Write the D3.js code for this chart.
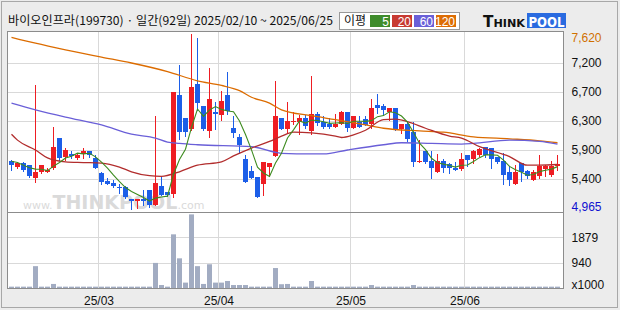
<!DOCTYPE html>
<html>
<head>
<meta charset="utf-8">
<script src="https://cdn.jsdelivr.net/npm/d3@7"></script>
<style>
  body { margin: 0; background: #ececec; }
  svg { display: block; font-family: "Liberation Sans", Arial, sans-serif; }
</style>
</head>
<body>
<svg id="chart" width="620" height="310"></svg>
<script>
// chart data (92 trading days, 2025/02/10 ~ 2025/06/25)
var title = "바이오인프라(199730) · 일간(92일) 2025/02/10 ~ 2025/06/25";

var opens  = [5690,5600,5670,5630,5430,5530,5530,5580,6040,5760, 5800,5740,5800,5850,5740,5510,5390,5360,5300,5300,
              5120,5080,5120,5250,5020,5310,5230,5200,6700,6350, 6180,6860,6530,6150,6440,6390,6700,6200,6050,5720,
              5540,5450,5350,5600,5770,6350,6180,6280,6280,6340, 6150,6410,6290,6250,6210,6250,6440,6200,6290,6330,
              6260,6540,6530,6430,6500,6180,6250,6130,5680,5850, 5690,5530,5690,5650,5590,5570,5780,5730,5780,5900,
              5890,5760,5690,5520,5350,5660,5540,5400,5460,5570, 5480,5620];
var highs  = [5710,5680,5680,5640,6850,5640,5580,6210,6040,5890, 5850,5820,5890,5850,5780,5520,5430,5400,5340,5320,
              5120,5120,5250,5250,6380,5450,5230,6740,7150,6350, 7620,7560,6530,7100,6590,6760,7040,6370,6110,5780,
              5610,5450,5680,5670,6900,6350,6590,6440,6390,6390, 6980,6430,6370,6340,6410,6450,6440,6380,6380,6370,
              6630,6710,6560,6500,6500,6250,6290,6290,6010,5850, 5850,5800,5720,5660,5680,5810,5780,5860,5890,5900,
              5890,5760,5810,5620,5630,5660,5560,5560,5780,5630, 5690,5780];
var lows   = [5560,5580,5540,5450,5380,5510,5520,5570,5710,5710, 5740,5720,5740,5760,5590,5350,5340,5300,5210,5130,
              4965,4980,5030,5000,5020,5170,5160,5150,6020,6070, 6170,6470,6170,6060,6180,6310,6400,6050,5810,5370,
              5430,5140,5170,5460,5770,6180,6140,6250,6100,6190, 6100,6240,6190,6190,6210,6250,6150,6200,6210,6240,
              6190,6420,6390,6320,6170,6120,5990,5610,5680,5660, 5430,5530,5530,5510,5550,5560,5610,5660,5770,5760,
              5590,5670,5350,5330,5350,5390,5440,5400,5440,5460, 5470,5560];
var closes = [5640,5660,5560,5470,5520,5630,5560,5900,5740,5860, 5770,5790,5850,5780,5590,5370,5340,5310,5290,5140,
              5080,5110,5080,5020,5360,5170,5170,6740,6140,6140, 6820,6570,6180,6630,6400,6600,6450,6120,5930,5370,
              5440,5140,5680,5670,6380,6180,6300,6300,6340,6220, 6410,6270,6210,6210,6250,6440,6200,6380,6210,6240,
              6500,6500,6460,6500,6170,6250,6030,5680,5690,5680, 5590,5690,5580,5580,5560,5730,5710,5850,5870,5780,
              5720,5680,5480,5400,5520,5530,5460,5530,5620,5620, 5620,5650];
// volume, x1000 shares
var volumes = [50,50,50,50,810,50,50,150,50,50, 50,50,50,50,50,50,50,50,50,50,
               50,50,50,50,930,110,50,1990,1100,200, 2730,810,150,880,200,200,260,110,110,110,
               50,50,50,50,740,140,150,50,50,50, 260,50,50,50,50,50,50,50,50,50,
               110,50,50,50,50,50,50,110,50,50, 50,50,50,50,50,50,50,50,50,50,
               50,50,50,50,50,50,50,50,50,50, 50,50];

// moving averages (index, value)
var ma5Lead  = [5690,5670,5630,5590];
var ma20Idx  = [0,1,4,6,9,12,15,18,20,23,25,28,31,35,37,40,43,45,47,50,54,55,57,59,62,64,66,69,73,75,78,83,86,88,91];
var ma20Val  = [6100,6010,5860,5740,5680,5670,5660,5600,5530,5470,5460,5530,5630,5680,5770,5890,5990,6070,6130,6120,
                6070,6050,6090,6160,6320,6330,6290,6190,6070,6040,5910,5760,5630,5630,5640];
var ma60Idx  = [0,4,9,15,20,24,26,28,31,40,45,50,52,56,62,65,70,75,77,83,88,91];
var ma60Val  = [6570,6470,6360,6240,6100,6040,5980,5960,5940,5910,5810,5800,5800,5860,5940,5970,5960,5950,5960,6010,5990,5950];
var ma120Idx = [0,4,9,15,20,26,31,35,38,40,43,45,50,54,59,62,68,72,77,83,88,91];
var ma120Val = [7570,7480,7380,7270,7180,7050,6910,6840,6760,6660,6570,6470,6380,6320,6240,6190,6150,6130,6060,6030,6000,5970];

var priceMin = 4965, priceMax = 7620;
var priceGrid = [7180, 6740, 6300, 5860, 5420];
var priceGridLabels = ["7,200", "6,700", "6,300", "5,900", "5,400"];
var volMax = 2818;
var volGrid = [1879, 940];
var monthStart = [15, 35, 57, 76];
var monthLabels = ["25/03", "25/04", "25/05", "25/06"];
var legendLabels = ["5", "20", "60", "120"];

// colours
var upColor = "#ee1d23", downColor = "#1c5ee8";
var maColors = ["#3d8b1f", "#b22d2d", "#6a5fd8", "#dc6c00"];
var legendColors = ["#3f8c2c", "#c83a32", "#6a60d8", "#dd6d05"];
var gridColor = "#d9d9d9", frameColor = "#8c8c8c";

// setup
var svg = d3.select("#chart");
var plot = {left: 7.5, right: 563.5, top: 31.5, sep: 212.5, bottom: 288.5};

var n = closes.length;
var x = d3.scaleBand().domain(d3.range(n)).range([8, 8 + n * 6]);
var y = d3.scaleLinear().domain([priceMin, priceMax]).range([209, 34]);
var yv = d3.scaleLinear().domain([0, volMax]).range([288, 212]);
var cx = function(i) { return x(i) + 3.5; };
var snap = function(v) { return Math.round(v) + 0.5; };

// outer frame and plot area
svg.append("rect").attr("x", 1.5).attr("y", 1.5).attr("width", 616).attr("height", 306)
    .attr("fill", "#ececec").attr("stroke", "#a8a8a8");
svg.append("rect").attr("x", plot.left).attr("y", plot.top)
    .attr("width", plot.right - plot.left).attr("height", plot.bottom - plot.top)
    .attr("fill", "#fff");

// grid lines
svg.selectAll(".pgrid").data(priceGrid).enter().append("line")
    .attr("x1", plot.left).attr("x2", plot.right)
    .attr("y1", function(d) { return snap(y(d)); })
    .attr("y2", function(d) { return snap(y(d)); })
    .attr("stroke", gridColor);
svg.selectAll(".vgrid").data(volGrid).enter().append("line")
    .attr("x1", plot.left).attr("x2", plot.right)
    .attr("y1", function(d) { return snap(yv(d)); })
    .attr("y2", function(d) { return snap(yv(d)); })
    .attr("stroke", gridColor);
svg.selectAll(".mgrid").data(monthStart).enter().append("line")
    .attr("x1", function(d) { return x(d) + 0.5; })
    .attr("x2", function(d) { return x(d) + 0.5; })
    .attr("y1", plot.top).attr("y2", plot.bottom)
    .attr("stroke", gridColor);

// watermark
var wm = svg.append("text").attr("x", 23).attr("y", 209).attr("fill", "#dadada")
    .style("font-family", "\"DejaVu Sans\", sans-serif");
wm.append("tspan").attr("font-size", 11).text("www.");
wm.append("tspan").attr("font-size", 19).attr("font-weight", "bold").text("THINKPOOL");
wm.append("tspan").attr("font-size", 11).text(".com");

// volume bars
svg.selectAll(".vol").data(volumes).enter().append("rect")
    .attr("x", function(d, i) { return x(i) + 1; })
    .attr("width", 5)
    .attr("y", function(d) { return yv(d); })
    .attr("height", function(d) { return 288 - yv(d); })
    .attr("fill", "#a2acc2");

// candles
var candles = closes.map(function(c, i) {
  return {i: i, o: opens[i], h: highs[i], l: lows[i], c: c};
});
var candleColor = function(d) { return d.c >= d.o ? upColor : downColor; };

svg.selectAll(".wick").data(candles).enter().append("line")
    .attr("x1", function(d) { return cx(d.i); })
    .attr("x2", function(d) { return cx(d.i); })
    .attr("y1", function(d) { return Math.round(y(d.h)); })
    .attr("y2", function(d) { return Math.round(y(d.l)) + 1; })
    .attr("stroke", candleColor);

svg.selectAll(".body").data(candles).enter().append("rect")
    .attr("x", function(d) { return x(d.i) + 1; })
    .attr("width", 5)
    .attr("y", function(d) { return Math.round(y(Math.max(d.o, d.c))); })
    .attr("height", function(d) {
      return Math.max(1, Math.round(y(Math.min(d.o, d.c))) - Math.round(y(Math.max(d.o, d.c))));
    })
    .attr("fill", candleColor);

// moving averages
var ma5 = closes.map(function(c, i) {
  if (i < 4) return [i, ma5Lead[i]];
  return [i, d3.mean(closes.slice(i - 4, i + 1))];
});
var line = d3.line()
    .x(function(d) { return cx(d[0]); })
    .y(function(d) { return y(d[1]); });
var zip = function(a, b) { return a.map(function(v, k) { return [v, b[k]]; }); };

[[ma120Idx, ma120Val, 3], [ma60Idx, ma60Val, 2], [ma20Idx, ma20Val, 1]].forEach(function(m) {
  svg.append("path")
      .datum(zip(m[0], m[1]))
      .attr("d", line.curve(d3.curveMonotoneX))
      .attr("fill", "none")
      .attr("stroke", maColors[m[2]])
      .attr("stroke-width", 1.3);
});
svg.append("path")
    .datum(ma5)
    .attr("d", line.curve(d3.curveLinear))
    .attr("fill", "none")
    .attr("stroke", maColors[0])
    .attr("stroke-width", 1.1);

// frame lines on top
svg.append("rect").attr("x", plot.left).attr("y", plot.top)
    .attr("width", plot.right - plot.left).attr("height", plot.bottom - plot.top)
    .attr("fill", "none").attr("stroke", frameColor);
svg.append("line").attr("x1", plot.left).attr("x2", plot.right)
    .attr("y1", plot.sep).attr("y2", plot.sep).attr("stroke", frameColor);

// right axis, price
var priceAxis = d3.axisRight(y)
    .tickValues(priceGrid)
    .tickFormat(function(d, i) { return priceGridLabels[i]; })
    .tickSize(0).tickPadding(8);
var pa = svg.append("g").attr("transform", "translate(" + plot.right + ",0)").call(priceAxis);
pa.select(".domain").remove();
pa.selectAll("text").attr("font-size", 12).attr("fill", "#111")
    .style("font-family", "\"Liberation Sans\", Arial, sans-serif");

svg.append("text").attr("x", plot.right + 8).attr("y", y(priceMax) + 8)
    .attr("font-size", 12).attr("fill", "#d07000").text(d3.format(",")(priceMax));
svg.append("text").attr("x", plot.right + 8).attr("y", y(priceMin) + 2)
    .attr("font-size", 12).attr("fill", "#1010d0").text(d3.format(",")(priceMin));

// right axis, volume
var volAxis = d3.axisRight(yv).tickValues(volGrid).tickSize(0).tickPadding(8)
    .tickFormat(d3.format("d"));
var va = svg.append("g").attr("transform", "translate(" + plot.right + ",0)").call(volAxis);
va.select(".domain").remove();
va.selectAll("text").attr("font-size", 12).attr("fill", "#111")
    .style("font-family", "\"Liberation Sans\", Arial, sans-serif");
svg.append("text").attr("x", plot.right + 8).attr("y", 289)
    .attr("font-size", 12).attr("fill", "#111").text("x1000");

// month labels
svg.selectAll(".mlab").data(monthStart).enter().append("text")
    .attr("x", function(d) { return x(d) + 1; })
    .attr("y", 305)
    .attr("text-anchor", "middle")
    .attr("font-size", 12).attr("fill", "#111")
    .text(function(d, i) { return monthLabels[i]; });

// header
svg.append("text").attr("x", 8).attr("y", 25)
    .style("font-family", "\"Noto Sans CJK KR\", sans-serif")
    .attr("font-size", 12).attr("fill", "#111")
    .attr("textLength", 325).attr("lengthAdjust", "spacingAndGlyphs")
    .text(title);

var lg = svg.append("g");
lg.append("rect").attr("x", 339.5).attr("y", 12.5).attr("width", 120).attr("height", 17)
    .attr("fill", "#fff").attr("stroke", "#999");
lg.append("text").attr("x", 344).attr("y", 25)
    .style("font-family", "\"Noto Sans CJK KR\", sans-serif")
    .attr("font-size", 12).attr("fill", "#111").text("이평");
legendLabels.forEach(function(t, k) {
  lg.append("rect").attr("x", 370 + k * 22).attr("y", 15).attr("width", 20).attr("height", 12)
      .attr("fill", legendColors[k]);
  lg.append("text").attr("x", 389 + k * 22).attr("y", 25.5).attr("text-anchor", "end")
      .attr("font-size", 12).attr("fill", "#fff").text(t);
});

// THINKPOOL logo
var logo = svg.append("text").attr("x", 483).attr("y", 27).attr("font-weight", "bold")
    .attr("fill", "#111").style("font-family", "\"DejaVu Sans\", sans-serif")
    .attr("textLength", 42).attr("lengthAdjust", "spacingAndGlyphs");
logo.append("tspan").attr("font-size", 15).text("T");
logo.append("tspan").attr("font-size", 11).text("HINK");
svg.append("rect").attr("x", 527).attr("y", 13).attr("width", 39).attr("height", 15).attr("fill", "#2a6be0");
svg.append("text").attr("x", 546.5).attr("y", 26.5).attr("text-anchor", "middle")
    .attr("font-weight", "bold").attr("font-size", 14).attr("fill", "#fff")
    .attr("textLength", 36).attr("lengthAdjust", "spacingAndGlyphs")
    .style("font-family", "\"DejaVu Sans\", sans-serif").text("POOL");
</script>
</body>
</html>
